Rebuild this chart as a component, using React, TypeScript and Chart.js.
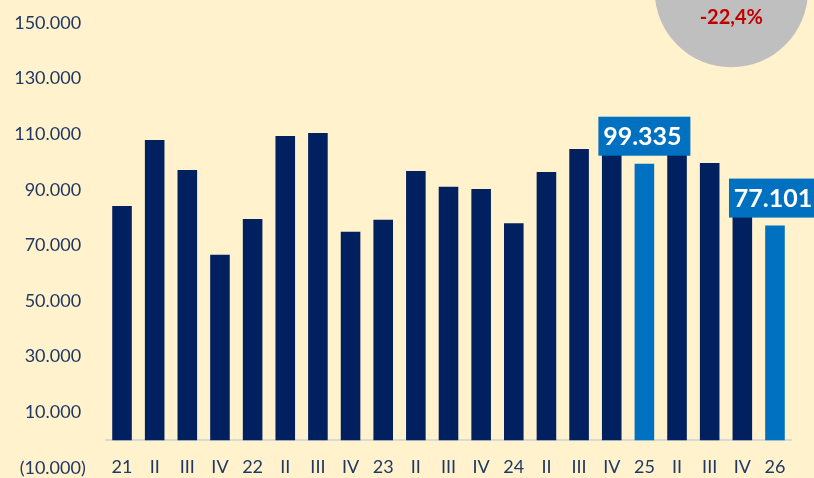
import React, { useEffect, useRef } from 'react';
import { Chart, registerables } from 'chart.js';

Chart.register(...registerables);

// ---- data ----
const categories = ['21', 'II', 'III', 'IV', '22', 'II', 'III', 'IV', '23', 'II', 'III', 'IV', '24', 'II', 'III', 'IV', '25', 'II', 'III', 'IV', '26'];
const values = [84150, 107860, 97080, 66650, 79480, 109300, 110380, 74910, 79230, 96720, 91080, 90250, 77930, 96360, 104630, 107000, 99335, 105000, 99600, 85000, 77101];
const highlightIndices = [16, 20];
const labelIndices = [16, 20];
const compareFrom = 16;
const compareTo = 20;
const yMin = -10000;
const yMax = 150000;
const yStep = 20000;

const DARK = '#002060';
const LIGHT = '#0070C0';
const BG = '#FFF2CC';
const TEXT = '#1F3864';
const FONT = 'Lato, "Noto Sans", sans-serif';

function fmtThousands(v: number): string {
  const s = Math.round(Math.abs(v)).toString();
  return s.replace(/\B(?=(\d{3})+(?!\d))/g, '.');
}

function fmtTick(v: number): string {
  if (v < 0) return '(' + fmtThousands(v) + ')';
  return fmtThousands(v) + ' ';
}

const bgPlugin = {
  id: 'bgFill',
  beforeDraw(chart: any) {
    const { ctx, width, height } = chart;
    ctx.save();
    ctx.fillStyle = BG;
    ctx.fillRect(0, 0, width, height);
    ctx.restore();
  },
};

const labelPlugin = {
  id: 'valueBoxes',
  afterDatasetsDraw(chart: any) {
    const { ctx } = chart;
    const meta = chart.getDatasetMeta(0);
    ctx.save();
    labelIndices.forEach((i) => {
      const el = meta.data[i];
      if (!el) return;
      const boxW = 92;
      const boxH = 39;
      const bottom = el.y - 8;
      ctx.fillStyle = LIGHT;
      ctx.fillRect(el.x - boxW / 2, bottom - boxH, boxW, boxH);
      ctx.fillStyle = '#FFFFFF';
      ctx.font = 'bold 25px ' + FONT;
      ctx.textAlign = 'center';
      ctx.textBaseline = 'middle';
      ctx.fillText(fmtThousands(values[i]), el.x - 2, bottom - boxH / 2 + 1);
    });
    ctx.restore();
  },
};

const changePlugin = {
  id: 'changeBubble',
  afterDraw(chart: any) {
    const { ctx, chartArea } = chart;
    const cx = chartArea.right - 60;
    const cy = chartArea.top - 32;
    ctx.save();
    ctx.fillStyle = '#BFBFBF';
    ctx.beginPath();
    ctx.arc(cx, cy, 76.6, 0, Math.PI * 2);
    ctx.fill();
    const pct = (values[compareTo] / values[compareFrom] - 1) * 100;
    const txt = (pct < 0 ? '-' : '+') + Math.abs(pct).toFixed(1).replace('.', ',') + '%';
    ctx.fillStyle = '#C00000';
    ctx.font = 'bold 20px ' + FONT;
    ctx.textAlign = 'center';
    ctx.textBaseline = 'middle';
    ctx.fillText(txt, cx, 18);
    ctx.restore();
  },
};

export default function App() {
  const ref = useRef<HTMLCanvasElement | null>(null);

  useEffect(() => {
    document.body.style.margin = '0';
    document.body.style.background = BG;
    if (!ref.current) return;
    const colors = values.map((_, i) => (highlightIndices.includes(i) ? LIGHT : DARK));
    const chart = new Chart(ref.current, {
      type: 'bar',
      data: {
        labels: categories,
        datasets: [
          {
            data: values,
            backgroundColor: colors,
            borderWidth: 0,
            barPercentage: 0.6,
            categoryPercentage: 1,
          },
        ],
      },
      options: {
        animation: false,
        responsive: false,
        maintainAspectRatio: false,
        devicePixelRatio: 1,
        layout: { padding: { top: 22.7, bottom: 10, left: 0, right: 22.7 } },
        plugins: {
          legend: { display: false },
          tooltip: { enabled: false },
        },
        scales: {
          x: {
            position: { y: 0 } as any,
            offset: true,
            grid: { display: false, drawTicks: false },
            border: { display: true, color: '#D9D9D9', width: 2 },
            afterFit(scale: any) {
              scale.height = 0;
            },
            ticks: {
              color: TEXT,
              font: { family: FONT, size: 18 },
              padding: 16,
              maxRotation: 0,
              autoSkip: false,
            },
          },
          y: {
            min: yMin,
            max: yMax,
            grid: { display: false, drawTicks: false },
            border: { display: false },
            afterFit(scale: any) {
              scale.width = 105.7;
              scale.paddingTop = 0;
              scale.paddingBottom = 0;
            },
            ticks: {
              stepSize: yStep,
              color: TEXT,
              font: { family: FONT, size: 18, lineHeight: 1 },
              padding: 20,
              callback: (v: any) => fmtTick(Number(v)),
            },
          },
        },
      },
      plugins: [bgPlugin, labelPlugin, changePlugin],
    });
    return () => chart.destroy();
  }, []);

  return (
    <div style={{ width: 814, height: 478, background: BG }}>
      <canvas ref={ref} width={814} height={478} style={{ display: 'block', width: 814, height: 478 }} />
    </div>
  );
}
